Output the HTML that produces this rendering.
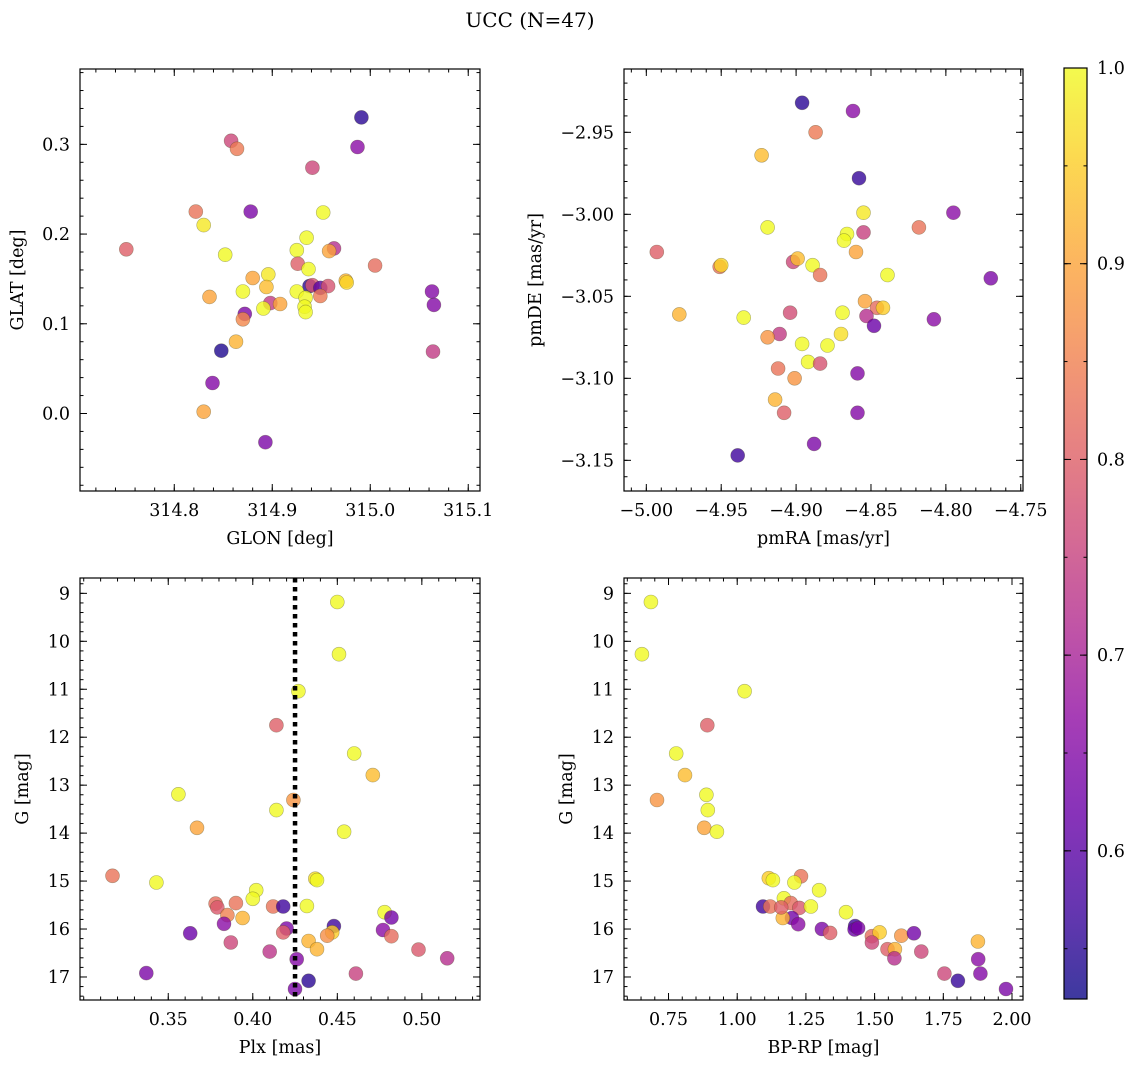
<!DOCTYPE html>
<html><head><meta charset="utf-8"><title>UCC (N=47)</title>
<style>
html,body{margin:0;padding:0;background:#fff;}
svg{display:block;font-family:"DejaVu Serif","Liberation Serif",serif;}
</style></head>
<body>
<svg id="fig" width="1136" height="1068" viewBox="0 0 1136 1068" xmlns="http://www.w3.org/2000/svg">
<text x="530" y="27" text-anchor="middle" font-size="20">UCC (N=47)</text>
</svg>
<script>
// ---------- data (top-level arrays) ----------
const glon = [314.991,314.987,314.858,314.864,314.941,314.822,314.878,314.952,314.830,314.751,314.935,314.925,314.963,314.958,314.852,314.926,315.005,314.937,314.896,314.880,314.975,314.976,315.063,315.065,315.064,314.938,314.941,314.949,314.957,314.949,314.925,314.934,314.933,314.934,314.870,314.894,314.836,314.898,314.908,314.891,314.872,314.870,314.863,314.848,314.839,314.830,314.893];
const glat = [0.330,0.297,0.304,0.295,0.274,0.225,0.225,0.224,0.210,0.183,0.196,0.182,0.184,0.181,0.177,0.167,0.165,0.161,0.155,0.151,0.148,0.146,0.136,0.121,0.069,0.142,0.143,0.140,0.142,0.131,0.136,0.129,0.119,0.113,0.136,0.141,0.130,0.123,0.122,0.117,0.111,0.105,0.080,0.070,0.034,0.002,-0.032];
const probPos = [0.55,0.66,0.76,0.84,0.76,0.83,0.64,1.0,0.98,0.80,1.0,1.0,0.72,0.90,1.0,0.80,0.82,1.0,0.98,0.90,0.92,0.96,0.65,0.65,0.74,0.55,0.78,0.60,0.78,0.84,1.0,1.0,1.0,1.0,1.0,0.93,0.90,0.74,0.90,1.0,0.64,0.86,0.92,0.54,0.65,0.90,0.64];

const pmra = [-4.896,-4.862,-4.887,-4.923,-4.858,-4.795,-4.855,-4.818,-4.919,-4.855,-4.866,-4.868,-4.860,-4.993,-4.902,-4.899,-4.889,-4.951,-4.950,-4.884,-4.839,-4.770,-4.854,-4.846,-4.842,-4.978,-4.904,-4.869,-4.935,-4.853,-4.808,-4.848,-4.870,-4.911,-4.919,-4.896,-4.879,-4.892,-4.884,-4.912,-4.859,-4.901,-4.914,-4.908,-4.859,-4.888,-4.939];
const pmde = [-2.932,-2.937,-2.950,-2.964,-2.978,-2.999,-2.999,-3.008,-3.008,-3.011,-3.012,-3.016,-3.023,-3.023,-3.029,-3.027,-3.031,-3.032,-3.031,-3.037,-3.037,-3.039,-3.053,-3.057,-3.057,-3.061,-3.060,-3.060,-3.063,-3.062,-3.064,-3.068,-3.073,-3.073,-3.075,-3.079,-3.080,-3.090,-3.091,-3.094,-3.097,-3.100,-3.113,-3.121,-3.121,-3.140,-3.147];
const probPm = [0.55,0.66,0.84,0.93,0.56,0.66,0.98,0.83,1.0,0.75,1.0,1.0,0.90,0.80,0.76,0.93,1.0,0.83,0.96,0.83,1.0,0.64,0.90,0.82,0.95,0.92,0.77,1.0,1.0,0.72,0.66,0.62,0.97,0.74,0.88,1.0,1.0,1.0,0.78,0.83,0.65,0.88,0.92,0.80,0.65,0.64,0.57];

const plx = [0.450,0.451,0.427,0.414,0.460,0.471,0.356,0.424,0.414,0.367,0.454,0.317,0.343,0.437,0.438,0.402,0.400,0.378,0.379,0.390,0.412,0.418,0.432,0.385,0.394,0.383,0.478,0.482,0.420,0.418,0.448,0.447,0.444,0.363,0.477,0.482,0.433,0.387,0.438,0.410,0.498,0.515,0.426,0.337,0.461,0.433,0.425];
const gPlx = [9.18,10.27,11.04,11.75,12.34,12.79,13.19,13.31,13.52,13.89,13.97,14.89,15.03,14.95,14.98,15.19,15.37,15.47,15.55,15.46,15.53,15.53,15.52,15.71,15.77,15.89,15.65,15.76,15.99,16.07,15.94,16.07,16.14,16.09,16.02,16.15,16.25,16.28,16.42,16.47,16.43,16.61,16.63,16.92,16.93,17.08,17.25];
const probPlx = [1.0,1.0,1.0,0.80,1.0,0.93,1.0,0.88,1.0,0.90,1.0,0.83,1.0,0.97,1.0,1.0,1.0,0.82,0.79,0.83,0.83,0.57,1.0,0.85,0.92,0.66,1.0,0.63,0.64,0.80,0.57,0.95,0.87,0.62,0.66,0.82,0.92,0.76,0.92,0.73,0.79,0.72,0.65,0.64,0.75,0.55,0.64];

const bprp = [0.686,0.653,1.027,0.891,0.778,0.810,0.888,0.708,0.893,0.880,0.926,1.232,1.115,1.130,1.208,1.298,1.170,1.195,1.094,1.120,1.226,1.268,1.199,1.166,1.222,1.396,1.308,1.338,1.429,1.427,1.490,1.518,1.490,1.597,1.643,1.547,1.574,1.572,1.670,1.876,1.877,1.885,1.754,1.803,1.978,1.160,1.440];
const gCmd = [9.18,10.27,11.04,11.75,12.34,12.79,13.20,13.31,13.52,13.89,13.97,14.90,14.94,14.98,15.03,15.19,15.36,15.46,15.53,15.53,15.56,15.53,15.77,15.77,15.90,15.65,16.00,16.08,15.94,16.01,16.15,16.07,16.28,16.14,16.09,16.42,16.42,16.61,16.47,16.26,16.63,16.93,16.93,17.08,17.25,15.55,15.98];
const probCmd = [1.0,1.0,1.0,0.80,1.0,0.93,1.0,0.88,1.0,0.90,1.0,0.83,0.95,1.0,1.0,1.0,1.0,0.82,0.57,0.83,0.79,1.0,0.63,0.92,0.66,1.0,0.64,0.80,0.57,0.62,0.82,0.95,0.76,0.88,0.63,0.80,0.92,0.72,0.76,0.92,0.66,0.65,0.76,0.56,0.64,0.80,0.64];

const plxMedian = [0.425];

const ticksGlon = [314.8,314.9,315.0,315.1];
const ticksGlat = [0.0,0.1,0.2,0.3];
const ticksPmra = [-5.00,-4.95,-4.90,-4.85,-4.80,-4.75];
const ticksPmde = [-3.15,-3.10,-3.05,-3.00,-2.95];
const ticksPlx = [0.35,0.40,0.45,0.50];
const ticksMag = [9,10,11,12,13,14,15,16,17];
const ticksBprp = [0.75,1.00,1.25,1.50,1.75,2.00];
const ticksCbar = [0.6,0.7,0.8,0.9,1.0];

const VMIN = 0.5243, VMAX = 1.0;
// ---------- helpers ----------
const NS = "http://www.w3.org/2000/svg";
const svg = document.getElementById("fig");
const FS = 17.5;
const plasma = ["#0d0887","#41049d","#6a00a8","#8f0da4","#b12a90","#cc4778","#e16462","#f2844b","#fca636","#fcce25","#f0f921"];
function hex(h){return [parseInt(h.slice(1,3),16),parseInt(h.slice(3,5),16),parseInt(h.slice(5,7),16)];}
function cmap(p){
  let t=(p-VMIN)/(VMAX-VMIN); t=Math.max(0,Math.min(1,t));
  const f=t*10, i=Math.min(9,Math.floor(f)), r=f-i;
  const a=hex(plasma[i]), b=hex(plasma[i+1]);
  return "rgb("+a.map((v,k)=>Math.round(v+(b[k]-v)*r)).join(",")+")";
}
function mk(tag, attrs, parent){
  const e=document.createElementNS(NS,tag);
  for(const k in attrs) e.setAttribute(k,attrs[k]);
  (parent||svg).appendChild(e); return e;
}
function fmt(v,d){return (v<0?"\u2212":"")+Math.abs(v).toFixed(d);}

function panel(cfg){
  const {x0,x1,y0,y1,xa,xb,yt,yb} = cfg;
  const sx=v=>x0+(v-xa)/(xb-xa)*(x1-x0);
  const sy=v=>y0+(v-yt)/(yb-yt)*(y1-y0);
  const g=mk("g",{});
  
  
  const pts=mk("g",{},g);
  
  
  for(let i=0;i<cfg.xs.length;i++){
    const c=mk("circle",{cx:sx(cfg.xs[i]).toFixed(1),cy:sy(cfg.ys[i]).toFixed(1),r:7,fill:cmap(cfg.ps[i]),"fill-opacity":0.8,stroke:"rgba(60,60,20,0.4)","stroke-width":0.6},pts);
    
    
  }
  if(cfg.vline){
    const l=mk("line",{x1:sx(cfg.vline[0]),x2:sx(cfg.vline[0]),y1:y0,y2:y1,stroke:"#000","stroke-width":4.5,"stroke-dasharray":"4.5 4.5"},g);
    
    
  }
  const fr=mk("rect",{x:x0,y:y0,width:x1-x0,height:y1-y0,fill:"none",stroke:"#000","stroke-width":1.2},g);
  
  
  const tk=mk("g",{stroke:"#000","stroke-width":1},g);
  
  
  const xlo=Math.min(xa,xb), xhi=Math.max(xa,xb), ylo=Math.min(yt,yb), yhi=Math.max(yt,yb);
  for(let v=Math.ceil(xlo/cfg.xminor)*cfg.xminor; v<=xhi; v+=cfg.xminor){
    const X=sx(v); mk("line",{x1:X,x2:X,y1:y1,y2:y1-3.5},tk); mk("line",{x1:X,x2:X,y1:y0,y2:y0+3.5},tk);
  }
  for(let v=Math.ceil(ylo/cfg.yminor)*cfg.yminor; v<=yhi; v+=cfg.yminor){
    const Y=sy(v); mk("line",{x1:x0,x2:x0+3.5,y1:Y,y2:Y},tk); mk("line",{x1:x1,x2:x1-3.5,y1:Y,y2:Y},tk);
  }
  cfg.xt.forEach(v=>{
    const X=sx(v); mk("line",{x1:X,x2:X,y1:y1,y2:y1-7},tk); mk("line",{x1:X,x2:X,y1:y0,y2:y0+7},tk);
    const t=mk("text",{x:X,y:y1+25,"text-anchor":"middle","font-size":FS},g); t.textContent=fmt(v,cfg.xd);
    
    
  });
  cfg.yt_.forEach(v=>{
    const Y=sy(v); mk("line",{x1:x0,x2:x0+7,y1:Y,y2:Y},tk); mk("line",{x1:x1,x2:x1-7,y1:Y,y2:Y},tk);
    const t=mk("text",{x:x0-10,y:Y+6,"text-anchor":"end","font-size":FS},g); t.textContent=fmt(v,cfg.yd);
    
    
  });
  const xl=mk("text",{x:(x0+x1)/2,y:y1+53,"text-anchor":"middle","font-size":FS},g); xl.textContent=cfg.xlabel;
  
  
  const yx=cfg.ylx, yy=(y0+y1)/2;
  const yl=mk("text",{x:yx,y:yy,"text-anchor":"middle","font-size":FS,transform:`rotate(-90 ${yx} ${yy})`},g); yl.textContent=cfg.ylabel;
  
  
}

panel({name:"glon-glat-panel",x0:80,x1:480,y0:69,y1:491,xa:314.7038,xb:315.112,yt:0.384,yb:-0.0864,
  xs:glon,ys:glat,ps:probPos,xt:ticksGlon,yt_:ticksGlat,xd:1,yd:1,xminor:0.02,yminor:0.02,
  xlabel:"GLON [deg]",ylabel:"GLAT [deg]",ylx:23});
panel({name:"pm-panel",x0:624,x1:1023,y0:69,y1:491,xa:-5.0149,xb:-4.7485,yt:-2.9114,yb:-3.1687,
  xs:pmra,ys:pmde,ps:probPm,xt:ticksPmra,yt_:ticksPmde,xd:2,yd:2,xminor:0.01,yminor:0.01,
  xlabel:"pmRA [mas/yr]",ylabel:"pmDE [mas/yr]",ylx:541});
panel({name:"plx-g-panel",x0:80,x1:480,y0:578,y1:1000,xa:0.2978,xb:0.5344,yt:8.68,yb:17.48,
  xs:plx,ys:gPlx,ps:probPlx,xt:ticksPlx,yt_:ticksMag,xd:2,yd:0,xminor:0.01,yminor:0.2,
  xlabel:"Plx [mas]",ylabel:"G [mag]",ylx:28,vline:plxMedian});
panel({name:"cmd-panel",x0:624,x1:1023,y0:578,y1:1000,xa:0.588,xb:2.040,yt:8.68,yb:17.48,
  xs:bprp,ys:gCmd,ps:probCmd,xt:ticksBprp,yt_:ticksMag,xd:2,yd:0,xminor:0.05,yminor:0.2,
  xlabel:"BP-RP [mag]",ylabel:"G [mag]",ylx:572});

(function(){
  const cx0=1064,cx1=1087,cy0=68,cy1=999;
  const defs=mk("defs",{});
  const lg=mk("linearGradient",{id:"cb",x1:0,y1:1,x2:0,y2:0},defs);
  for(let i=0;i<=40;i++){
    const p=VMIN+(VMAX-VMIN)*i/40;
    mk("stop",{offset:(i/40),"stop-color":cmap(p),"stop-opacity":0.8},lg);
  }
  const g=mk("g",{});
  
  
  mk("rect",{x:cx0,y:cy0,width:cx1-cx0,height:cy1-cy0,fill:"url(#cb)",stroke:"#000","stroke-width":1.2},g);
  const sy=v=>cy1-(v-VMIN)/(VMAX-VMIN)*(cy1-cy0);
  for(let v=0.55; v<=1.0001; v+=0.05){
    const Y=sy(v); mk("line",{x1:cx1,x2:cx1-3.5,y1:Y,y2:Y,stroke:"#000"},g); mk("line",{x1:cx0,x2:cx0+3.5,y1:Y,y2:Y,stroke:"#000"},g);
  }
  ticksCbar.forEach(v=>{
    const Y=sy(v);
    mk("line",{x1:cx1,x2:cx1-7,y1:Y,y2:Y,stroke:"#000"},g); mk("line",{x1:cx0,x2:cx0+7,y1:Y,y2:Y,stroke:"#000"},g);
    const t=mk("text",{x:cx1+10,y:Y+6,"font-size":FS},g); t.textContent=v.toFixed(1);
    
    
  });
})();
</script>
</body></html>
